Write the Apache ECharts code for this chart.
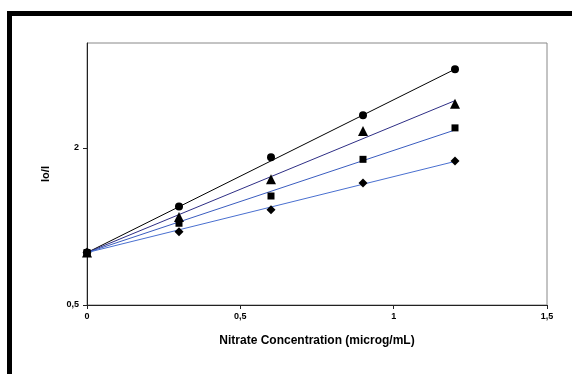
<!DOCTYPE html>
<html>
<head>
<meta charset="utf-8">
<script src="https://cdn.jsdelivr.net/npm/echarts@6/dist/echarts.min.js"></script>
<style>html,body{margin:0;padding:0;background:#fff}#c{width:572px;height:374px}</style>
</head>
<body>
<div id="c"></div>
<script>
var concentrations = [0, 0.3, 0.6, 0.9, 1.2];
var circleVals   = [1.0, 1.44, 1.91, 2.31, 2.75];
var triangleVals = [1.0, 1.34, 1.70, 2.16, 2.42];
var squareVals   = [1.0, 1.28, 1.54, 1.89, 2.19];
var diamondVals  = [1.0, 1.20, 1.41, 1.665, 1.875];
var trendX = [0, 1.2];
var circleTrend   = [1.0, 2.75];
var triangleTrend = [1.0, 2.45];
var squareTrend   = [1.0, 2.17];
var diamondTrend  = [1.0, 1.87];
var xTicks = [0, 0.5, 1, 1.5];
var yTicks = [0.5, 2];

function pairs(xs, ys){ return xs.map(function(x,i){ return [x, ys[i]]; }); }
function fmt(v){ return String(v).replace('.', ','); }
var FONT = 'Liberation Sans, Arial, sans-serif';

var chart = echarts.init(document.getElementById('c'));
function trend(data, color){
  return {type:'line', data:pairs(trendX, data), symbol:'none', silent:true,
    lineStyle:{color:color, width:1}, z:2, animation:false};
}
function marks(data, symbol, size){
  return {type:'scatter', data:pairs(concentrations, data), symbol:symbol, symbolSize:size,
    itemStyle:{color:'#000', opacity:1}, z:3, animation:false};
}
chart.setOption({
  animation:false,
  graphic:[{type:'rect', shape:{x:9.5, y:13.5, width:700, height:500},
    style:{fill:'none', stroke:'#000', lineWidth:5}, z:10}],
  grid:{left:87, top:43, right:25, bottom:69, show:true, borderColor:'#888', borderWidth:1, backgroundColor:'#fff'},
  xAxis:{type:'value', min:0, max:1.5, interval:0.5,
    name:'Nitrate Concentration (microg/mL)', nameLocation:'middle', nameGap:30,
    nameTextStyle:{fontFamily:FONT, fontWeight:'bold', fontSize:12, color:'#000'},
    axisLine:{show:true, lineStyle:{color:'#222', width:1}},
    axisTick:{show:true, length:4, lineStyle:{color:'#222'}, customValues:xTicks},
    axisLabel:{fontFamily:FONT, fontWeight:'bold', fontSize:9, color:'#000', margin:7, formatter:fmt, customValues:xTicks},
    splitLine:{show:false}},
  yAxis:{type:'value', min:0.5, max:3, interval:1.5,
    name:'Io/I', nameLocation:'middle', nameGap:36, nameRotate:90,
    nameTextStyle:{fontFamily:FONT, fontWeight:'bold', fontSize:11, color:'#000'},
    axisLine:{show:true, lineStyle:{color:'#222', width:1}},
    axisTick:{show:true, length:4, lineStyle:{color:'#222'}, customValues:yTicks},
    axisLabel:{fontFamily:FONT, fontWeight:'bold', fontSize:9, color:'#000', margin:8, formatter:fmt, customValues:yTicks},
    splitLine:{show:false}},
  series:[
    trend(circleTrend, '#000000'),
    trend(triangleTrend, '#2e2e85'),
    trend(squareTrend, '#3a5cbf'),
    trend(diamondTrend, '#4a70d0'),
    marks(circleVals, 'circle', 8),
    marks(triangleVals, 'triangle', 10),
    marks(squareVals, 'rect', 7),
    marks(diamondVals, 'diamond', 9)
  ]
});
</script>
</body>
</html>
